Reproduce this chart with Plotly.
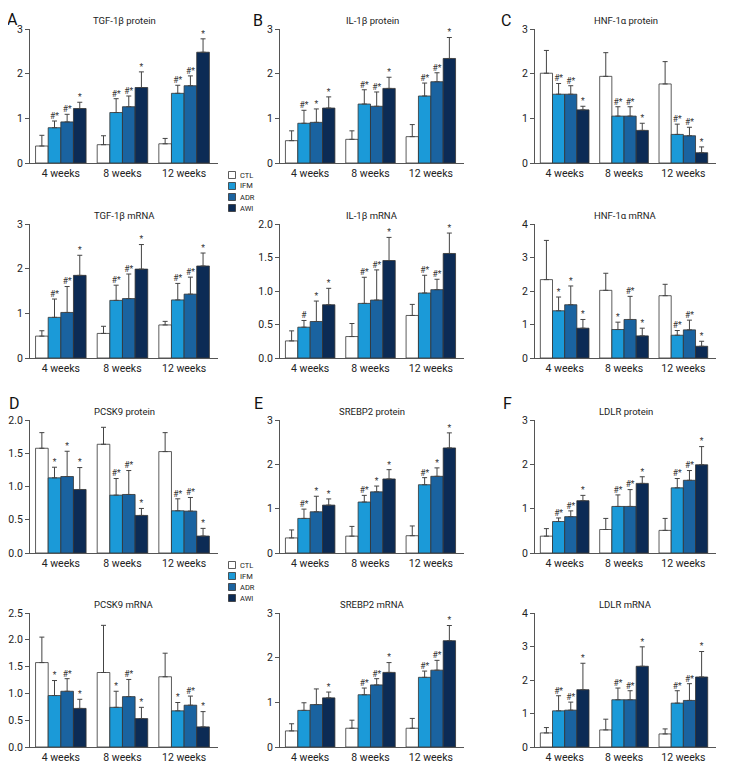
import plotly.graph_objects as go
from plotly.subplots import make_subplots

weeks = ["4 weeks", "8 weeks", "12 weeks"]
groups = ["CTL", "IFM", "ADR", "AWI"]
colors = ["#ffffff", "#1b9ad8", "#1a63a0", "#0c2b55"]

# mean values, one row per group (CTL, IFM, ADR, AWI), one column per week
tgf_protein = [[0.38, 0.41, 0.43], [0.79, 1.13, 1.56], [0.92, 1.26, 1.73], [1.22, 1.69, 2.48]]
tgf_protein_sd = [[0.24, 0.20, 0.12], [0.15, 0.31, 0.18], [0.17, 0.24, 0.22], [0.14, 0.35, 0.30]]
tgf_protein_sig = [["", "", ""], ["#*", "#*", "#*"], ["#*", "#*", "#*"], ["*", "*", "*"]]

il_protein = [[0.50, 0.53, 0.59], [0.89, 1.32, 1.50], [0.91, 1.27, 1.82], [1.23, 1.67, 2.34]]
il_protein_sd = [[0.22, 0.19, 0.27], [0.29, 0.32, 0.29], [0.30, 0.32, 0.20], [0.25, 0.25, 0.47]]
il_protein_sig = [["", "", ""], ["#*", "#*", "#*"], ["*", "#*", "#*"], ["*", "*", "*"]]

hnf_protein = [[2.01, 1.94, 1.77], [1.54, 1.05, 0.64], [1.54, 1.05, 0.61], [1.19, 0.73, 0.23]]
hnf_protein_sd = [[0.51, 0.53, 0.50], [0.24, 0.21, 0.23], [0.19, 0.21, 0.19], [0.08, 0.16, 0.13]]
hnf_protein_sig = [["", "", ""], ["#*", "#*", "#*"], ["#*", "#*", "#*"], ["*", "*", "*"]]

tgf_mrna = [[0.49, 0.55, 0.74], [0.91, 1.29, 1.30], [1.02, 1.33, 1.43], [1.85, 1.99, 2.06]]
tgf_mrna_sd = [[0.12, 0.16, 0.08], [0.41, 0.34, 0.37], [0.58, 0.55, 0.38], [0.45, 0.55, 0.29]]
tgf_mrna_sig = [["", "", ""], ["#*", "#*", "#*"], ["#*", "#*", "#*"], ["*", "*", "*"]]

il_mrna = [[0.255, 0.32, 0.635], [0.46, 0.815, 0.97], [0.545, 0.865, 1.02], [0.795, 1.455, 1.56]]
il_mrna_sd = [[0.15, 0.195, 0.165], [0.10, 0.39, 0.265], [0.305, 0.45, 0.155], [0.245, 0.345, 0.305]]
il_mrna_sig = [["", "", ""], ["#", "#*", "#*"], ["*", "#*", "#*"], ["*", "*", "*"]]

hnf_mrna = [[2.34, 2.02, 1.86], [1.41, 0.85, 0.68], [1.59, 1.15, 0.84], [0.89, 0.66, 0.35]]
hnf_mrna_sd = [[1.17, 0.51, 0.34], [0.41, 0.22, 0.14], [0.56, 0.69, 0.29], [0.26, 0.23, 0.15]]
hnf_mrna_sig = [["", "", ""], ["*", "*", "#*"], ["*", "#*", "#*"], ["*", "*", "*"]]

pcsk9_protein = [[1.575, 1.635, 1.525], [1.13, 0.87, 0.635], [1.15, 0.88, 0.63], [0.955, 0.565, 0.255]]
pcsk9_protein_sd = [[0.235, 0.255, 0.285], [0.16, 0.25, 0.18], [0.38, 0.36, 0.205], [0.33, 0.105, 0.115]]
pcsk9_protein_sig = [["", "", ""], ["*", "#*", "#*"], ["*", "#*", "#*"], ["*", "*", "*"]]

srebp2_protein = [[0.34, 0.38, 0.39], [0.78, 1.15, 1.54], [0.93, 1.38, 1.73], [1.08, 1.67, 2.37]]
srebp2_protein_sd = [[0.18, 0.22, 0.22], [0.21, 0.15, 0.16], [0.35, 0.13, 0.19], [0.14, 0.21, 0.34]]
srebp2_protein_sig = [["", "", ""], ["#*", "#*", "#*"], ["*", "*", "*"], ["*", "*", "*"]]

ldlr_protein = [[0.38, 0.53, 0.51], [0.71, 1.05, 1.47], [0.82, 1.05, 1.64], [1.18, 1.57, 1.99]]
ldlr_protein_sd = [[0.17, 0.25, 0.27], [0.08, 0.26, 0.21], [0.13, 0.38, 0.22], [0.12, 0.15, 0.41]]
ldlr_protein_sig = [["", "", ""], ["#*", "#*", "#*"], ["#*", "#*", "#*"], ["*", "*", "*"]]

pcsk9_mrna = [[1.575, 1.39, 1.31], [0.96, 0.74, 0.675], [1.04, 0.94, 0.78], [0.72, 0.53, 0.375]]
pcsk9_mrna_sd = [[0.475, 0.88, 0.44], [0.28, 0.30, 0.155], [0.235, 0.32, 0.17], [0.17, 0.21, 0.285]]
pcsk9_mrna_sig = [["", "", ""], ["*", "*", "*"], ["#*", "#*", "#*"], ["*", "*", "*"]]

srebp2_mrna = [[0.36, 0.42, 0.42], [0.82, 1.17, 1.56], [0.95, 1.39, 1.72], [1.10, 1.67, 2.38]]
srebp2_mrna_sd = [[0.16, 0.18, 0.22], [0.17, 0.15, 0.14], [0.35, 0.14, 0.22], [0.13, 0.22, 0.34]]
srebp2_mrna_sig = [["", "", ""], ["", "#*", "#*"], ["", "#*", "#*"], ["*", "*", "*"]]

ldlr_mrna = [[0.42, 0.51, 0.39], [1.08, 1.41, 1.31], [1.10, 1.41, 1.39], [1.71, 2.41, 2.09]]
ldlr_mrna_sd = [[0.16, 0.32, 0.15], [0.45, 0.35, 0.37], [0.24, 0.27, 0.50], [0.79, 0.58, 0.76]]
ldlr_mrna_sig = [["", "", ""], ["#*", "#*", "#*"], ["#*", "#*", "#*"], ["*", "*", "*"]]

# (title, means, sd, significance, y max, tick step), row-major order
panels = [
    ("TGF-1β protein", tgf_protein, tgf_protein_sd, tgf_protein_sig, 3, 1),
    ("IL-1β protein", il_protein, il_protein_sd, il_protein_sig, 3, 1),
    ("HNF-1α protein", hnf_protein, hnf_protein_sd, hnf_protein_sig, 3, 1),
    ("TGF-1β mRNA", tgf_mrna, tgf_mrna_sd, tgf_mrna_sig, 3, 1),
    ("IL-1β mRNA", il_mrna, il_mrna_sd, il_mrna_sig, 2, 0.5),
    ("HNF-1α mRNA", hnf_mrna, hnf_mrna_sd, hnf_mrna_sig, 4, 1),
    ("PCSK9 protein", pcsk9_protein, pcsk9_protein_sd, pcsk9_protein_sig, 2, 0.5),
    ("SREBP2 protein", srebp2_protein, srebp2_protein_sd, srebp2_protein_sig, 3, 1),
    ("LDLR protein", ldlr_protein, ldlr_protein_sd, ldlr_protein_sig, 3, 1),
    ("PCSK9 mRNA", pcsk9_mrna, pcsk9_mrna_sd, pcsk9_mrna_sig, 2.5, 0.5),
    ("SREBP2 mRNA", srebp2_mrna, srebp2_mrna_sd, srebp2_mrna_sig, 3, 1),
    ("LDLR mRNA", ldlr_mrna, ldlr_mrna_sd, ldlr_mrna_sig, 4, 1),
]
letters = ["A", "B", "C", "D", "E", "F"]

# the page body adds an 8px margin, so the figure is drawn 8px smaller
# and all screen positions below are shifted by that offset
PAGE = 8
W, H = 732 - PAGE, 780 - PAGE
FONT = "Roboto, Liberation Sans, sans-serif"
AXIS = "#555555"
BARGAP = 0.18


def px(x):
    return (x - PAGE) / W


def py(y):
    return 1 - (y - PAGE) / H


# panel placement in screen pixels
col_px = [(30, 218), (280, 464), (535, 716)]
row_px = [(29, 163), (224, 358), (420, 553), (613, 747)]
letter_px = [(12.5, 19), (258, 20), (506, 20), (14, 403), (258, 403), (507, 403)]
legend_px = [(232, 175), (232, 565)]

fig = make_subplots(rows=4, cols=3)

bar_w = (1 - BARGAP) / len(groups)
for p, (title, means, sds, sigs, ymax, step) in enumerate(panels):
    r, c = p // 3 + 1, p % 3 + 1
    for g in range(len(groups)):
        fig.add_trace(
            go.Bar(
                x=list(range(len(weeks))),
                y=means[g],
                name=groups[g],
                marker={"color": colors[g], "line": {"color": "#333333", "width": 0.8}},
                error_y={
                    "type": "data",
                    "symmetric": False,
                    "array": sds[g],
                    "arrayminus": [0] * len(weeks),
                    "color": "#444444",
                    "thickness": 1,
                    "width": 2.5,
                },
                showlegend=False,
            ),
            row=r,
            col=c,
        )
        off = (g - 1.5) * bar_w
        fig.add_trace(
            go.Scatter(
                x=[k + off for k in range(len(weeks))],
                y=[m + s for m, s in zip(means[g], sds[g])],
                mode="text",
                text=sigs[g],
                textposition="top center",
                textfont={"size": 8.5, "color": "#333333", "family": FONT},
                cliponaxis=False,
                showlegend=False,
                hoverinfo="skip",
            ),
            row=r,
            col=c,
        )

    x0, x1 = col_px[c - 1]
    top, bot = row_px[r - 1]
    n = "" if p == 0 else str(p + 1)
    fig.layout["xaxis" + n].update(
        domain=[px(x0), px(x1)],
        range=[-0.5, 2.55],
        tickvals=list(range(len(weeks))),
        ticktext=weeks,
        showline=True,
        linecolor=AXIS,
        linewidth=1,
        ticks="",
        showgrid=False,
        zeroline=False,
        automargin=False,
        tickfont={"size": 10.5, "color": "#222222"},
    )
    fig.layout["yaxis" + n].update(
        domain=[py(bot), py(top)],
        range=[0, ymax],
        dtick=step,
        tickformat=".1f" if step < 1 else "d",
        showline=True,
        linecolor=AXIS,
        linewidth=1,
        ticks="outside",
        ticklen=4,
        tickcolor=AXIS,
        showgrid=False,
        zeroline=False,
        automargin=False,
        tickfont={"size": 10.5, "color": "#222222"},
    )
    fig.add_annotation(
        text=title,
        x=px((x0 + x1) / 2),
        y=py(top - 9),
        xref="paper",
        yref="paper",
        xanchor="center",
        yanchor="middle",
        showarrow=False,
        font={"size": 9.5, "color": "#222222"},
    )

for (lx, ly), letter in zip(letter_px, letters):
    fig.add_annotation(
        text=letter,
        x=px(lx),
        y=py(ly),
        xref="paper",
        yref="paper",
        xanchor="center",
        yanchor="middle",
        showarrow=False,
        borderpad=0,
        font={"size": 16, "color": "#111111"},
    )

# hand-drawn legends between the panel columns
for lx, ly in legend_px:
    for g, name in enumerate(groups):
        yc = ly + g * 11
        fig.add_shape(
            type="rect",
            x0=px(lx - 3.5),
            x1=px(lx + 3.5),
            y0=py(yc + 3.5),
            y1=py(yc - 3.5),
            xref="paper",
            yref="paper",
            fillcolor=colors[g],
            line={"color": "#333333", "width": 0.8},
        )
        fig.add_annotation(
            text=name,
            x=px(lx + 6),
            y=py(yc),
            xref="paper",
            yref="paper",
            xanchor="left",
            yanchor="middle",
            showarrow=False,
            font={"size": 7.5, "color": "#222222"},
        )

fig.update_layout(
    width=W,
    height=H,
    margin={"l": 0, "r": 0, "t": 0, "b": 0},
    barmode="group",
    bargap=BARGAP,
    bargroupgap=0,
    plot_bgcolor="white",
    paper_bgcolor="white",
    font={"family": FONT, "color": "#222222"},
    showlegend=False,
)

fig.write_html("out.html")
